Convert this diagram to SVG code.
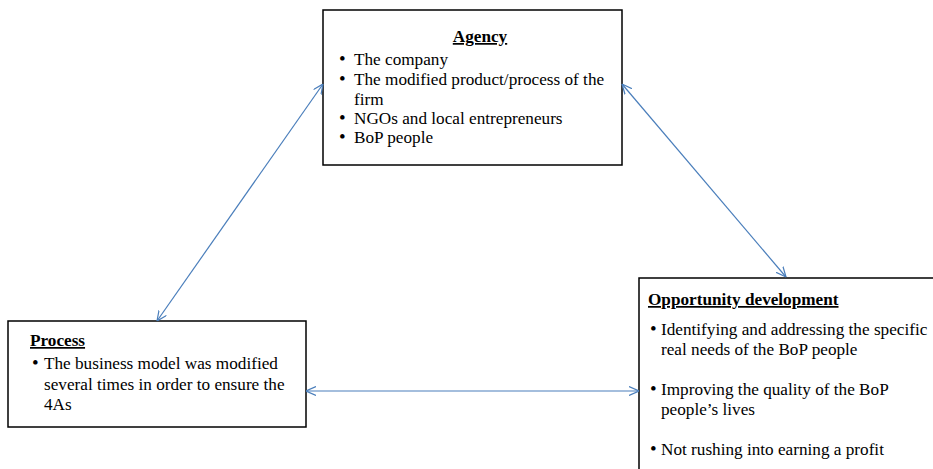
<svg xmlns="http://www.w3.org/2000/svg" width="933" height="469" viewBox="0 0 933 469">
<style>
.box{fill:#fff;stroke:#000;stroke-width:1.5}
.t{font-family:"Liberation Serif","Times New Roman",serif;font-size:17.2px;fill:#000}
.b{font-family:"Liberation Serif","Times New Roman",serif;font-size:19px;fill:#000}
.h{font-weight:bold;text-decoration:underline}
.c{stroke:#4a7ebb;stroke-width:1.2;fill:none;marker-start:url(#ah);marker-end:url(#ah)}
</style>
<defs>
<marker id="ah" viewBox="0 0 10 10" refX="10" refY="5" markerWidth="10" markerHeight="10" markerUnits="userSpaceOnUse" orient="auto-start-reverse">
<path d="M0,0.5 L10,5 L0,9.5" fill="none" stroke="#4a7ebb" stroke-width="1.2"/>
</marker>
</defs>
<g id="agency">
<rect class="box" x="323" y="10" width="299" height="155"/>
<text class="t h" x="480" y="42" text-anchor="middle">Agency</text>
<text class="b" x="339" y="65">•</text><text class="t" x="354" y="65">The company</text>
<text class="b" x="339" y="85">•</text><text class="t" x="354" y="85">The modified product/process of the</text>
<text class="t" x="354" y="105">firm</text>
<text class="b" x="339" y="124">•</text><text class="t" x="354" y="124">NGOs and local entrepreneurs</text>
<text class="b" x="339" y="143">•</text><text class="t" x="354" y="143">BoP people</text>
</g>
<g id="process">
<rect class="box" x="8" y="321" width="298" height="106"/>
<text class="t h" x="30" y="346">Process</text>
<text class="b" x="32" y="369">•</text><text class="t" x="44" y="369">The business model was modified</text>
<text class="t" x="44" y="390">several times in order to ensure the</text>
<text class="t" x="44" y="410">4As</text>
</g>
<g id="opportunity">
<rect class="box" x="639" y="278" width="310" height="210"/>
<text class="t h" x="648" y="305">Opportunity development</text>
<text class="b" x="650" y="335">•</text><text class="t" x="661" y="335">Identifying and addressing the specific</text>
<text class="t" x="661" y="355">real needs of the BoP people</text>
<text class="b" x="650" y="395">•</text><text class="t" x="661" y="395">Improving the quality of the BoP</text>
<text class="t" x="661" y="415">people’s lives</text>
<text class="b" x="650" y="455">•</text><text class="t" x="661" y="455">Not rushing into earning a profit</text>
</g>
<g id="connectors">
<line class="c" x1="323" y1="84" x2="157" y2="321"/>
<line class="c" x1="622" y1="84" x2="786" y2="277"/>
<line class="c" x1="306" y1="391" x2="639" y2="391"/>
</g>
</svg>
